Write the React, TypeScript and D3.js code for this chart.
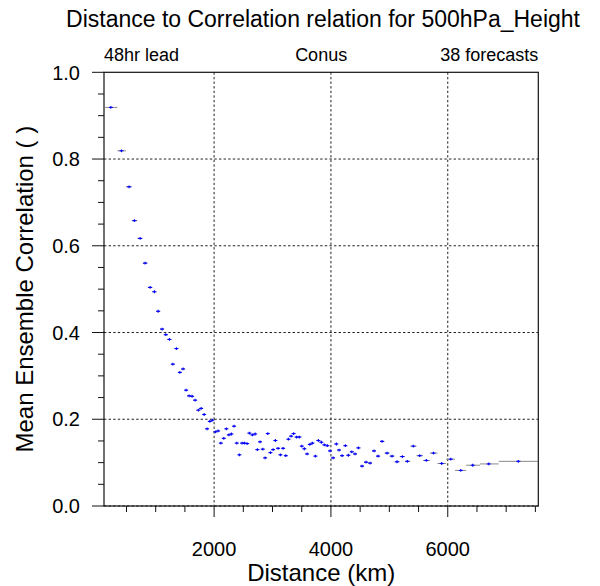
import React from "react";
import * as d3 from "d3";

const distanceKm = [
  232, 414, 545, 636, 734, 819, 905, 978, 1042, 1110, 1173, 1235, 1293, 1355, 1413, 1469, 1521, 1572, 1623, 1675,
  1731, 1778, 1829, 1880, 1926, 1971, 2022, 2068, 2115, 2166, 2210, 2252, 2296, 2342, 2388, 2433, 2479, 2519, 2565, 2604,
  2655, 2702, 2741, 2787, 2833, 2873, 2919, 2964, 3010, 3049, 3095, 3135, 3181, 3227, 3272, 3318, 3361, 3412, 3460, 3501,
  3545, 3592, 3638, 3682, 3734, 3785, 3836, 3888, 3939, 3985, 4037, 4093, 4139, 4191, 4247, 4298, 4357, 4413, 4470, 4533,
  4601, 4670, 4738, 4807, 4875, 4961, 5046, 5132, 5223, 5308, 5411, 5520, 5633, 5756, 5897, 6051, 6222, 6427, 6701, 7208,
];

const correlation = [
  0.919, 0.819, 0.736, 0.658, 0.617, 0.56, 0.504, 0.494, 0.449, 0.408, 0.395, 0.384, 0.327, 0.363, 0.308, 0.316, 0.267, 0.254, 0.253, 0.244,
  0.221, 0.225, 0.211, 0.178, 0.195, 0.198, 0.171, 0.173, 0.145, 0.156, 0.178, 0.164, 0.166, 0.184, 0.145, 0.118, 0.145, 0.145, 0.144, 0.168,
  0.164, 0.166, 0.13, 0.148, 0.131, 0.111, 0.167, 0.123, 0.13, 0.151, 0.133, 0.118, 0.133, 0.116, 0.154, 0.161, 0.167, 0.159, 0.159, 0.138,
  0.132, 0.12, 0.142, 0.145, 0.115, 0.151, 0.147, 0.141, 0.139, 0.127, 0.111, 0.143, 0.129, 0.116, 0.139, 0.117, 0.125, 0.12, 0.134, 0.092,
  0.101, 0.099, 0.127, 0.115, 0.149, 0.122, 0.115, 0.102, 0.114, 0.103, 0.138, 0.116, 0.105, 0.122, 0.098, 0.108, 0.082, 0.094, 0.097, 0.103,
];

// bin edges (km): bin i spans binEdges[i]..binEdges[i+1]
const binEdges = [
  135, 345, 489, 590, 685, 776, 862, 941, 1010, 1076, 1141, 1204, 1264, 1324, 1384, 1441, 1495, 1546, 1597, 1649, 1703,
  1754, 1803, 1854, 1903, 1948, 1996, 2045, 2091, 2140, 2188, 2231, 2274, 2319, 2365, 2410, 2456, 2499, 2542, 2584, 2630,
  2678, 2721, 2764, 2810, 2853, 2896, 2941, 2987, 3029, 3072, 3115, 3158, 3204, 3249, 3295, 3339, 3386, 3436, 3480, 3523,
  3568, 3615, 3660, 3708, 3759, 3810, 3862, 3913, 3962, 4011, 4065, 4116, 4165, 4219, 4272, 4327, 4385, 4441, 4501, 4567,
  4635, 4704, 4772, 4841, 4918, 5003, 5089, 5177, 5265, 5359, 5465, 5576, 5694, 5824, 5972, 6125, 6315, 6552, 6872, 7540,
];

const xMajorTicks = [2000, 4000, 6000];
const xMinorTicks = [500, 1000, 1500, 2500, 3000, 3500, 4500, 5000, 5500, 6500, 7000, 7500];
const yMajorTicks = [0, 0.2, 0.4, 0.6, 0.8, 1.0];
const yMinorTicks = [0.05, 0.1, 0.15, 0.25, 0.3, 0.35, 0.45, 0.5, 0.55, 0.65, 0.7, 0.75, 0.85, 0.9, 0.95];
const xGrid = [2000, 4000, 6000];
const yGrid = [0, 0.2, 0.4, 0.6, 0.8];

const titleText = "Distance to Correlation relation for 500hPa_Height";
const subLeft = "48hr lead";
const subCenter = "Conus";
const subRight = "38 forecasts";
const xLabel = "Distance (km)";
const yLabel = "Mean Ensemble Correlation ( )";

const W = 600;
const H = 586;
const left = 104;
const right = 538.3;
const top = 72.3;
const bottom = 506;
const FONT = "'Liberation Sans', Arial, Helvetica, sans-serif";

export default function App() {
  const x = d3.scaleLinear().domain([115, 7550]).range([left, right]);
  const y = d3.scaleLinear().domain([0, 1]).range([bottom, top]);
  const cx = (left + right) / 2;
  const cy = (top + bottom) / 2;

  return (
    <svg
      width={W}
      height={H}
      style={{ position: "fixed", left: 0, top: 0, background: "#fff" }}
      fontFamily={FONT}
    >
      <rect x={0} y={0} width={W} height={H} fill="#fff" />
      {/* title */}
      <text x={323} y={27} fontSize={23} textAnchor="middle" fill="#000">
        {titleText}
      </text>
      <text x={left} y={61} fontSize={18} textAnchor="start" fill="#000">
        {subLeft}
      </text>
      <text x={cx} y={61} fontSize={18} textAnchor="middle" fill="#000">
        {subCenter}
      </text>
      <text x={right} y={61} fontSize={18} textAnchor="end" fill="#000">
        {subRight}
      </text>

      {/* grid */}
      {xGrid.map((v) => (
        <line key={"gx" + v} x1={x(v)} x2={x(v)} y1={top} y2={bottom} stroke="#222" strokeWidth={1} strokeDasharray="2.4,2.2" />
      ))}
      {yGrid.map((v) => (
        <line key={"gy" + v} x1={left} x2={right} y1={y(v)} y2={y(v)} stroke="#222" strokeWidth={1} strokeDasharray="2.4,2.2" />
      ))}

      {/* bin bars */}
      {distanceKm.map((d, i) => (
        <line
          key={"b" + i}
          x1={x(binEdges[i])}
          x2={x(binEdges[i + 1])}
          y1={y(correlation[i])}
          y2={y(correlation[i])}
          stroke="#8a8a8a"
          strokeWidth={1}
        />
      ))}
      {/* markers */}
      {distanceKm.map((d, i) => (
        <g key={"m" + i} stroke="#0000ff" strokeWidth={1.1}>
          <line x1={x(d) - 2} x2={x(d) + 2} y1={y(correlation[i])} y2={y(correlation[i])} />
          <line x1={x(d)} x2={x(d)} y1={y(correlation[i]) - 1.4} y2={y(correlation[i]) + 1.4} />
        </g>
      ))}

      {/* border */}
      <rect x={left} y={top} width={right - left} height={bottom - top} fill="none" stroke="#111" strokeWidth={1.2} />

      {/* y ticks */}
      {yMajorTicks.map((v) => (
        <g key={"yt" + v}>
          <line x1={left - 12} x2={left} y1={y(v)} y2={y(v)} stroke="#111" strokeWidth={1} />
          <text x={80} y={y(v)} dy="0.36em" fontSize={20} textAnchor="end" fill="#000">
            {d3.format(".1f")(v)}
          </text>
        </g>
      ))}
      {yMinorTicks.map((v) => (
        <line key={"ym" + v} x1={left - 6} x2={left} y1={y(v)} y2={y(v)} stroke="#111" strokeWidth={1} />
      ))}

      {/* x ticks */}
      {xMajorTicks.map((v) => (
        <g key={"xt" + v}>
          <line x1={x(v)} x2={x(v)} y1={bottom} y2={bottom + 11} stroke="#111" strokeWidth={1} />
          <text x={x(v)} y={556} fontSize={20} textAnchor="middle" fill="#000">
            {String(v)}
          </text>
        </g>
      ))}
      {xMinorTicks.map((v) => (
        <line key={"xm" + v} x1={x(v)} x2={x(v)} y1={bottom} y2={bottom + 6} stroke="#111" strokeWidth={1} />
      ))}

      {/* axis labels */}
      <text x={cx} y={581} fontSize={24} textAnchor="middle" fill="#000">
        {xLabel}
      </text>
      <text
        transform={`translate(33,${cy}) rotate(-90)`}
        fontSize={24}
        textAnchor="middle"
        fill="#000"
      >
        {yLabel}
      </text>
    </svg>
  );
}
